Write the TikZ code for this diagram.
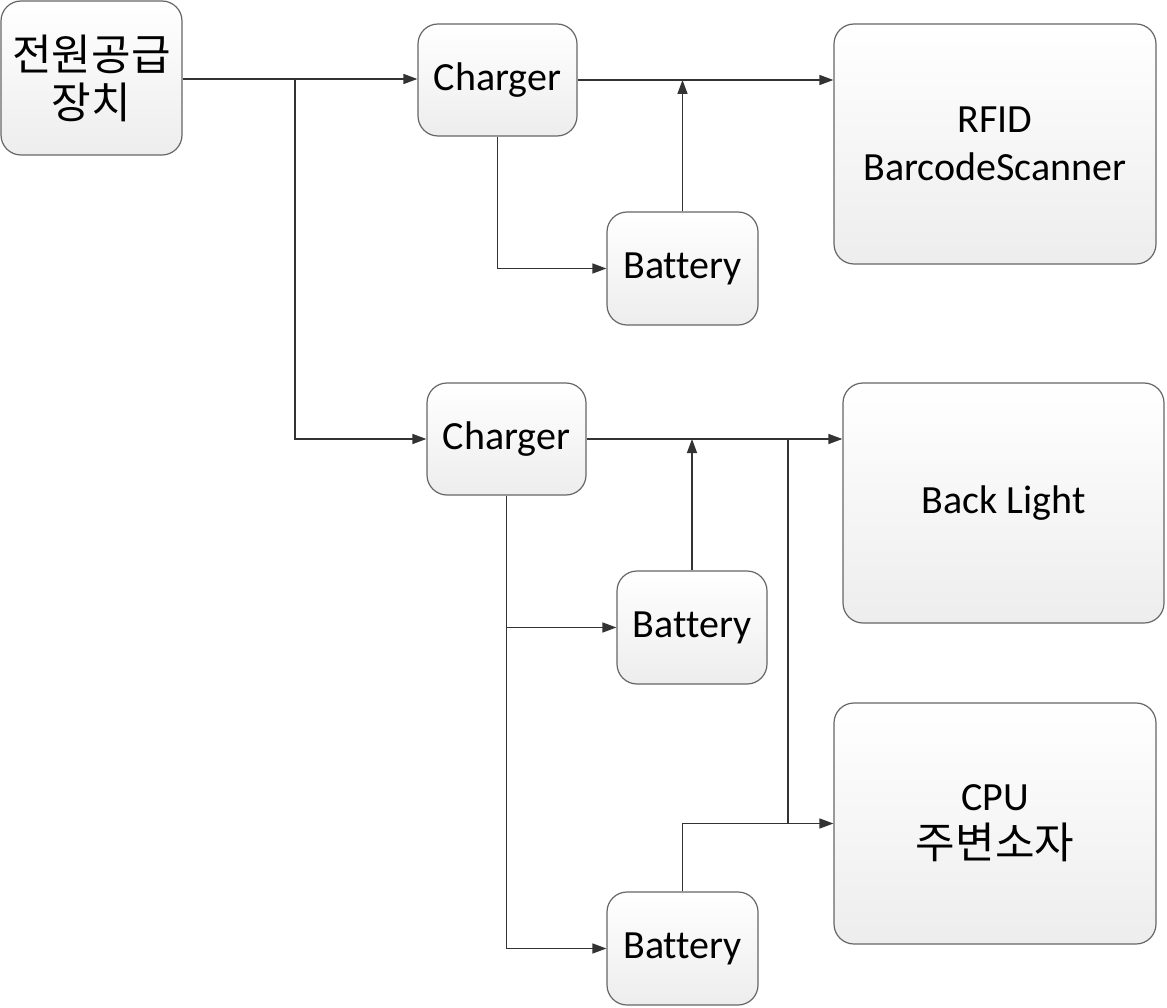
\documentclass[tikz,border=0pt]{standalone}
\usepackage{fontspec}
\setmainfont[Ligatures=NoCommon]{Carlito}
\newfontfamily\krfont{Noto Sans CJK KR}
\usetikzlibrary{arrows.meta}
\begin{document}
\begin{tikzpicture}[x=1pt,y=-1pt,
  box/.style={draw=black!60, line width=1.2pt, rounded corners=20pt,
    top color=white, bottom color=black!7, align=center,
    font=\fontsize{40}{48}\selectfont, inner sep=0pt},
  krbox/.style={box, font=\krfont\fontsize{43}{48}\selectfont},
  conn/.style={draw=black!80, line width=1.4pt},
  arr/.style={conn, -{Triangle[length=14pt,width=10pt]}}]
\useasboundingbox (0,0) rectangle (1167,1008);

\node[krbox, minimum width=181pt, minimum height=154pt] (pw) at (91.5,78) {전원공급\\장치};
\node[box, minimum width=159pt, minimum height=112pt] (c1) at (497.5,80) {Charger};
\node[box, minimum width=151pt, minimum height=113pt] (b1) at (682.5,268.5) {Battery};
\node[box, minimum width=322pt, minimum height=240pt] (rf) at (995,144) {RFID\\BarcodeScanner};
\node[box, minimum width=159pt, minimum height=112pt] (c2) at (506.5,439) {Charger};
\node[box, minimum width=321pt, minimum height=240pt] (bl) at (1003.5,503) {Back Light};
\node[box, minimum width=150pt, minimum height=113pt] (b2) at (692,627.5) {Battery};
\node[box, minimum width=322pt, minimum height=241pt] (cpu) at (995,823.5) {CPU\\{\krfont\fontsize{43}{48}\selectfont 주변소자}};
\node[box, minimum width=151pt, minimum height=113pt] (b3) at (682.5,948.5) {Battery};

\coordinate (j1) at (295,79);
\coordinate (j2) at (788,439);
\coordinate (j3) at (788,823.5);

\draw[arr] (pw.east |- j1) -- (j1 -| c1.west);
\draw[arr] (j1) |- (c2.west);
\draw[arr] (c1.east) -- (c1.east -| rf.west);
\draw[arr] (b1.north) -- (b1.north |- c1.east);
\draw[arr] (c1.south) |- (b1.west);

\draw[arr] (c2.east) -- (c2.east -| bl.west);
\draw[arr] (b2.north) -- (b2.north |- c2.east);
\draw[conn] (j2) -- (j3);
\draw[arr] (b3.north) |- (cpu.west);
\draw[arr] (c2.south) |- (b3.west);
\coordinate (j4) at (c2.south |- b2.west);
\draw[arr] (j4) -- (b2.west);
\end{tikzpicture}
\end{document}
